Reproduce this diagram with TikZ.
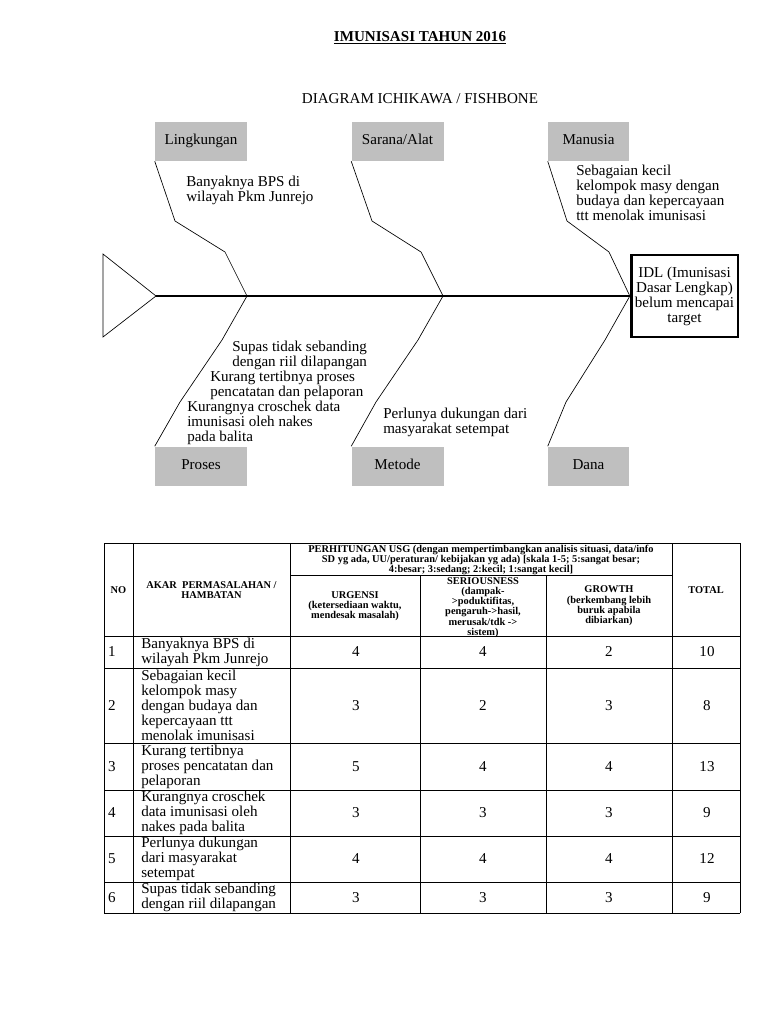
\documentclass[tikz,border=0pt]{standalone}
\usepackage{fontspec}
\setmainfont{Liberation Serif}
\newcommand{\txtsize}{\fontsize{11.3}{11.25}\selectfont}
\newcommand{\hdsize}{\fontsize{7.8}{7.7}\selectfont\bfseries}
\tikzset{
  catbox/.style={fill=black!25, minimum width=69pt, minimum height=29.25pt, inner sep=0pt,
      text height=7.6pt, text depth=2.4pt, font=\txtsize},
  bone/.style={line width=0.5pt},
  cause/.style={align=left, anchor=west, inner sep=0pt, font=\txtsize},
  hdr/.style={align=center, inner sep=0pt, font=\hdsize},
  cell/.style={align=left, anchor=west, inner sep=0pt, font=\txtsize},
  val/.style={inner sep=0pt, font=\txtsize},
  grid/.style={line width=0.6pt}
}
\begin{document}
\begin{tikzpicture}[x=0.75pt, y=-0.75pt]
    \useasboundingbox (0,0) rectangle (768,1024);
    %% titles
    \node[font=\txtsize\bfseries] (title) at (420,38) {\underline{IMUNISASI TAHUN 2016}};
    \node[font=\txtsize] (subtitle) at (420,99) {DIAGRAM ICHIKAWA / FISHBONE};
    %% tail
    \coordinate (tailtip) at (156,296);
    \coordinate (tailtop) at (103,254);
    \coordinate (tailbot) at (103,337);
    \draw[bone] (tailtop) -- (tailtip) -- (tailbot) -- cycle;
    %% head
    \node[draw, line width=2pt, minimum width=80pt, minimum height=61.5pt,
        align=center, inner sep=0pt, font=\txtsize] (idl) at (684.5,296)
        {IDL (Imunisasi\\Dasar Lengkap)\\belum mencapai\\target};
    %% spine
    \draw[line width=1.5pt] (tailtip) -- (idl.west);
    \coordinate (j1) at (247,296);
    \coordinate (j2) at (443,296);
    %% categories
    \node[catbox] (lingkungan) at (201,141.5) {Lingkungan};
    \node[catbox] (sarana) at (397.5,141.5) {Sarana/Alat};
    \node[catbox, minimum width=60.75pt] (manusia) at (588.5,141.5) {Manusia};
    \node[catbox] (proses) at (201,466) {Proses};
    \node[catbox] (metode) at (397.5,466) {Metode};
    \node[catbox, minimum width=60.75pt] (dana) at (588.5,466) {Dana};
    %% bones
    \draw[bone] (lingkungan.south west) -- (175,221) -- (225,252) -- (j1);
    \draw[bone] (sarana.south west) -- (372,221) -- (421,252) -- (j2);
    \draw[bone] (manusia.south west) -- (567,221) -- (609,252) -- (idl.west);
    \draw[bone] (j1) -- (222,340) -- (180,402) -- (proses.north west);
    \draw[bone] (j2) -- (418,340) -- (376,402) -- (metode.north west);
    \draw[bone] (idl.west) -- (605,340) -- (566,402) -- (dana.north west);
    %% causes
    \node[cause] (bps) at (186,190.5) {Banyaknya BPS di\\wilayah Pkm Junrejo};
    \node[cause] (budaya) at (576,192.5) {Sebagaian kecil\\kelompok masy dengan\\budaya dan kepercayaan\\ttt menolak imunisasi};
    \node[cause] (supas) at (232,355) {Supas tidak sebanding\\dengan riil dilapangan};
    \node[cause] (tertib) at (210,385) {Kurang tertibnya proses\\pencatatan dan pelaporan};
    \node[cause] (croschek) at (187,422.5) {Kurangnya croschek data\\imunisasi oleh nakes\\pada balita};
    \node[cause] (dukungan) at (383,422.5) {Perlunya dukungan dari\\masyarakat setempat};

    %% table grid
    \foreach \y in {543,636,668,743,790,836,882,913}
        \draw[grid] (104,\y) -- (740,\y);
    \draw[grid] (290,575) -- (672,575);
    \foreach \x in {104,133,290,672,740}
        \draw[grid] (\x,543) -- (\x,913);
    \foreach \x in {420,546}
        \draw[grid] (\x,575) -- (\x,913);
    %% table header
    \node[hdr] (hno) at (118.5,590) {NO};
    \node[hdr] (hakar) at (211.5,590) {AKAR\ \ PERMASALAHAN /\\HAMBATAN};
    \node[hdr] (husg) at (481,560) {PERHITUNGAN USG (dengan mempertimbangkan analisis situasi, data/info\\SD yg ada, UU/peraturan/ kebijakan yg ada) [skala 1-5; 5:sangat besar;\\4:besar; 3:sedang; 2:kecil; 1:sangat kecil]};
    \node[hdr] (hurg) at (355,606) {URGENSI\\(ketersediaan waktu,\\mendesak masalah)};
    \node[hdr] (hser) at (483,607.5) {SERIOUSNESS\\(dampak-\\>poduktifitas,\\pengaruh->hasil,\\merusak/tdk ->\\sistem)};
    \node[hdr] (hgro) at (609,606) {GROWTH\\(berkembang lebih\\buruk apabila\\dibiarkan)};
    \node[hdr] (htot) at (706,590) {TOTAL};
    %% table rows
    \foreach \rno/\yc/\txt/\vu/\vs/\vg/\vt in {
        1/652/{Banyaknya BPS di\\wilayah Pkm Junrejo}/4/4/2/10,
        2/705.5/{Sebagaian kecil\\kelompok masy\\dengan budaya dan\\kepercayaan ttt\\menolak imunisasi}/3/2/3/8,
        3/766.5/{Kurang tertibnya\\proses pencatatan dan\\pelaporan}/5/4/4/13,
        4/813/{Kurangnya croschek\\data imunisasi oleh\\nakes pada balita}/3/3/3/9,
        5/859/{Perlunya dukungan\\dari masyarakat\\setempat}/4/4/4/12,
        6/897.5/{Supas tidak sebanding\\dengan riil dilapangan}/3/3/3/9}{
        \node[val] (no\rno) at (112,\yc) {\rno};
        \node[cell] (akar\rno) at (141,\yc) {\txt};
        \node[val] (urg\rno) at (356,\yc) {\vu};
        \node[val] (ser\rno) at (483,\yc) {\vs};
        \node[val] (gro\rno) at (609,\yc) {\vg};
        \node[val] (tot\rno) at (707,\yc) {\vt};
    }
\end{tikzpicture}
\end{document}
